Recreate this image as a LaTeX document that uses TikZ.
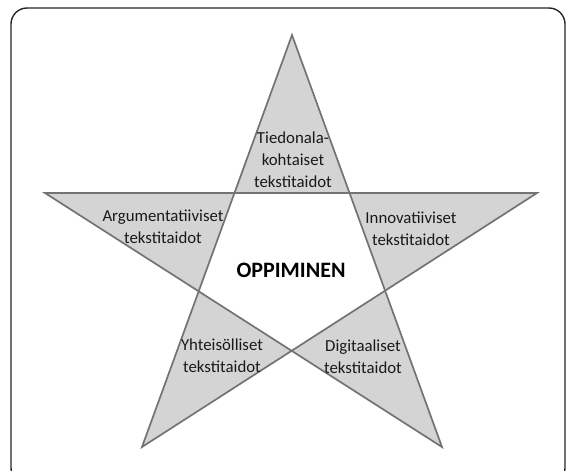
\documentclass[tikz,border=0pt]{standalone}
\usepackage{fontspec}
\setmainfont{Carlito}
\begin{document}
\begin{tikzpicture}[x=1pt,y=-1pt,
  lbl/.style={align=center,font=\fontsize{16.8}{21.8}\selectfont,text=black!90,inner sep=0pt},
  ttl/.style={font=\fontsize{22}{26}\selectfont\bfseries,text=black,inner sep=0pt},
  starshape/.style={draw=black!55,line width=1.7pt,fill=black!17,even odd rule,line join=miter},
  framebox/.style={draw=black!85,line width=1.4pt,rounded corners=16pt}]
\useasboundingbox (0,0) rectangle (573,471);
\begin{scope}
  \clip (0,0) rectangle (573,471);
  \draw[framebox] (11,8) rectangle (565,484);
\end{scope}
\coordinate (T) at (292,35);
\coordinate (L) at (45,193);
\coordinate (R) at (537,193);
\coordinate (BL) at (142,447);
\coordinate (BR) at (442,447);
\draw[starshape] (T) -- (BL) -- (R) -- (L) -- (BR) -- cycle;
\node[lbl] (tied) at (293,160) {Tiedonala-\\kohtaiset\\tekstitaidot};
\node[lbl] (arg) at (163,227) {Argumentatiiviset\\tekstitaidot};
\node[lbl] (inno) at (411,229) {Innovatiiviset\\tekstitaidot};
\node[lbl] (yht) at (222,356) {Yhteisölliset\\tekstitaidot};
\node[lbl] (dig) at (363,357) {Digitaaliset\\tekstitaidot};
\node[ttl] (opp) at (291,270) {OPPIMINEN};
\end{tikzpicture}
\end{document}
